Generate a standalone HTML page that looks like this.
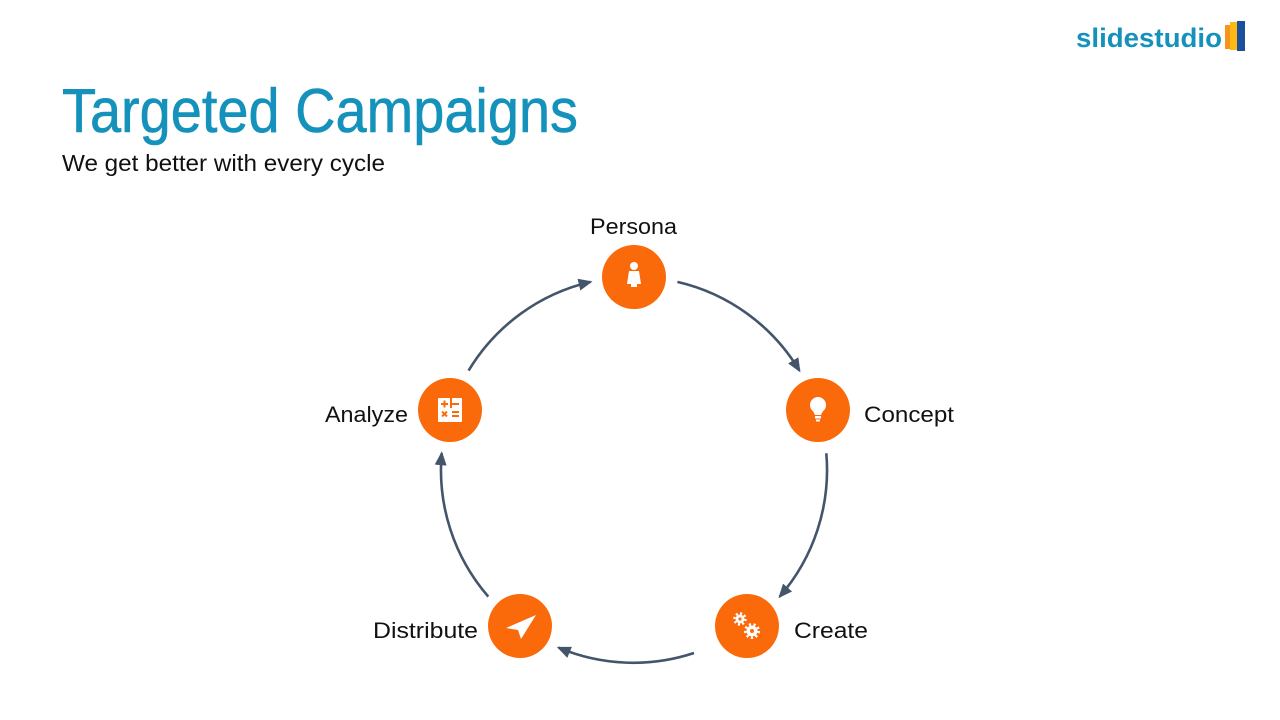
<!DOCTYPE html>
<html><head><meta charset="utf-8"><style>
html,body{margin:0;padding:0;background:#fff;}
svg{display:block;}
text{font-family:"Liberation Sans",sans-serif;}
</style></head><body>
<svg width="1280" height="720" viewBox="0 0 1280 720" xmlns="http://www.w3.org/2000/svg">
<defs>
<marker id="ah" viewBox="0 0 14 12" refX="12" refY="6" markerWidth="14" markerHeight="12" markerUnits="userSpaceOnUse" orient="auto">
<path d="M0,0 L14,6 L0,12 Z" fill="#44546a"/>
</marker>
</defs>
<!-- logo -->
<text x="1076" y="47" font-size="27" font-weight="bold" fill="#1592bb" textLength="146" lengthAdjust="spacingAndGlyphs">slidestudio</text>
<rect x="1225" y="25" width="6" height="24" fill="#f7941d"/>
<rect x="1230" y="22" width="7" height="28" fill="#fdb913"/>
<rect x="1237" y="21" width="8" height="30" fill="#1c4f9c"/>
<!-- title -->
<text x="62" y="132" font-size="62" fill="#1592bb" stroke="#1592bb" stroke-width="0.6" textLength="516" lengthAdjust="spacingAndGlyphs">Targeted Campaigns</text>
<text x="62" y="171" font-size="23" fill="#111" textLength="323" lengthAdjust="spacingAndGlyphs">We get better with every cycle</text>
<!-- arcs -->
<g fill="none" stroke="#44546a" stroke-width="2.6">
<path d="M677.4,281.9 A193,193 0 0 1 799.4,370.6" marker-end="url(#ah)"/>
<path d="M826.3,453.2 A193,193 0 0 1 779.7,596.6" marker-end="url(#ah)"/>
<path d="M694,653 A193,193 0 0 1 558.6,647.7" marker-end="url(#ah)"/>
<path d="M488.3,596.6 A193,193 0 0 1 441.7,453.2" marker-end="url(#ah)"/>
<path d="M468.6,370.6 A193,193 0 0 1 590.6,281.9" marker-end="url(#ah)"/>
</g>
<!-- nodes -->
<g fill="#fa6a0a">
<circle cx="634" cy="277" r="32"/>
<circle cx="818" cy="410" r="32"/>
<circle cx="747" cy="626" r="32"/>
<circle cx="520" cy="626" r="32"/>
<circle cx="450" cy="410" r="32"/>
</g>
<!-- icons -->
<g fill="#fff">
<circle cx="634" cy="266" r="4"/>
<path d="M629,271 h10 l2,13 h-14 Z"/>
<rect x="631" y="284" width="6" height="3"/>
<circle cx="818" cy="405" r="8"/>
<path d="M812,409 h12 l-3,6 h-6 Z"/>
<rect x="815" y="416" width="6" height="2.5"/>
<rect x="816" y="419.5" width="4" height="2"/>
<circle cx="740" cy="619" r="4.5"/>
<circle cx="752" cy="631" r="5.5"/>
<path d="M506,628 L536,615 L521,639 L518,630 Z"/>
<rect x="438" y="398" width="24" height="24" rx="1"/>
</g>
<g fill="none" stroke="#fff">
<circle cx="740" cy="619" r="5.5" stroke-width="2.5" stroke-dasharray="2 2.3"/>
<circle cx="752" cy="631" r="6.7" stroke-width="2.6" stroke-dasharray="2.2 2.5"/>
</g>
<g fill="#fa6a0a">
<circle cx="740" cy="619" r="1.6"/><circle cx="752" cy="631" r="2"/>
<rect x="441" y="403" width="7" height="2"/><rect x="443.5" y="400.5" width="2" height="7"/>
<rect x="452" y="403" width="7" height="2"/>
<rect x="441" y="413" width="7" height="2" transform="rotate(45 444.5 414)"/>
<rect x="441" y="413" width="7" height="2" transform="rotate(-45 444.5 414)"/>
<rect x="452" y="411" width="7" height="2"/><rect x="452" y="415" width="7" height="2"/>
<rect x="450" y="398" width="2" height="10"/>
</g>
<!-- labels -->
<g font-size="22" fill="#111">
<text x="590" y="234" textLength="87" lengthAdjust="spacingAndGlyphs">Persona</text>
<text x="864" y="422" textLength="90" lengthAdjust="spacingAndGlyphs">Concept</text>
<text x="794" y="638" textLength="74" lengthAdjust="spacingAndGlyphs">Create</text>
<text x="373" y="638" textLength="105" lengthAdjust="spacingAndGlyphs">Distribute</text>
<text x="325" y="422" textLength="83" lengthAdjust="spacingAndGlyphs">Analyze</text>
</g>
</svg>
</body></html>
